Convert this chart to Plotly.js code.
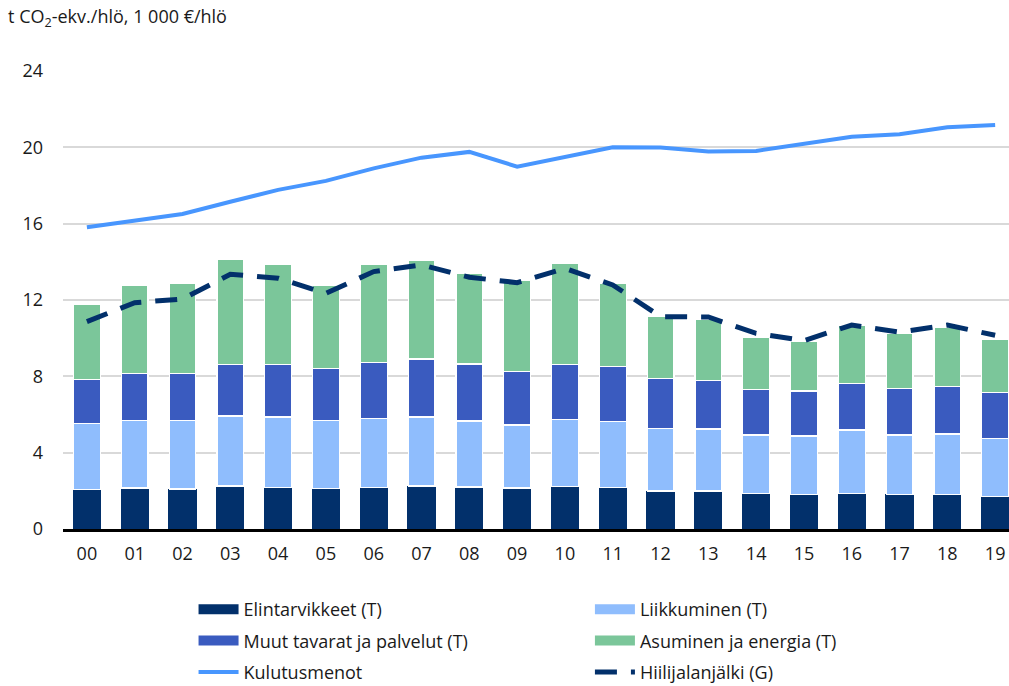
<!DOCTYPE html>
<html>
<head>
<meta charset="utf-8">
<script src="https://cdn.plot.ly/plotly-3.0.1.min.js"></script>
<style>body{margin:0;} #chart{width:1009px;height:686px;}</style>
</head>
<body>
<div id="chart"></div>
<script>
// years 2000-2019
var years = ['00','01','02','03','04','05','06','07','08','09','10','11','12','13','14','15','16','17','18','19'];

// stacked emission components, t CO2-ekv./hlö
var elintarvikkeet = [2.08,2.15,2.10,2.25,2.18,2.11,2.18,2.25,2.20,2.15,2.24,2.17,1.99,1.99,1.87,1.82,1.87,1.82,1.82,1.69];
var liikkuminen    = [3.46,3.55,3.60,3.67,3.69,3.59,3.62,3.62,3.46,3.30,3.49,3.45,3.29,3.25,3.06,3.05,3.32,3.11,3.16,3.06];
var muut           = [2.31,2.46,2.46,2.71,2.76,2.70,2.94,3.04,2.99,2.81,2.90,2.89,2.60,2.53,2.36,2.36,2.45,2.44,2.48,2.41];
var asuminen       = [3.93,4.59,4.72,5.52,5.21,4.39,5.11,5.15,4.75,4.75,5.27,4.37,3.27,3.22,2.76,2.59,3.02,2.89,3.09,2.75];

// 1 000 €/hlö
var kulutusmenot = [15.81,16.16,16.51,17.15,17.77,18.24,18.90,19.46,19.76,18.99,19.48,20.00,19.99,19.78,19.81,20.16,20.56,20.69,21.05,21.17];
// total footprint (G)
var hiilijalanjalki = [10.87,11.86,12.05,13.35,13.14,12.35,13.49,13.84,13.19,12.91,13.66,12.79,11.13,11.11,10.25,9.87,10.69,10.31,10.69,10.15];

var cNavy = '#02306b', cLight = '#8fbdfd', cBlue = '#3a5bbf', cGreen = '#7bc69a', cLine = '#4896fe';

function barTrace(y, color, w, line) {
  return {
    x: years, y: y, type: 'bar', width: w, showlegend: false, hoverinfo: 'y',
    marker: {color: color, line: line ? {color: '#ffffff', width: 1.2} : {width: 0}}
  };
}

// legend-only entries, so the swatches look like wide bars
function legendTrace(name, color, leg, width, dash) {
  return {
    x: [null], y: [null], type: 'scatter', mode: 'lines', name: name, legend: leg, legendgroup: name,
    line: {color: color, width: width, dash: dash || 'solid'}
  };
}

var data = [
  barTrace(elintarvikkeet, cNavy, 0.59, false),
  barTrace(liikkuminen, cLight, 0.56, true),
  barTrace(muut, cBlue, 0.56, true),
  barTrace(asuminen, cGreen, 0.56, true),
  {
    x: years, y: kulutusmenot, type: 'scatter', mode: 'lines', showlegend: false,
    line: {color: cLine, width: 4}
  },
  {
    x: years, y: hiilijalanjalki, type: 'scatter', mode: 'lines', showlegend: false,
    line: {color: cNavy, width: 5, dash: '22px,14px'}
  },
  legendTrace('Elintarvikkeet (T)', cNavy, 'legend', 10),
  legendTrace('Muut tavarat ja palvelut (T)', cBlue, 'legend', 10),
  legendTrace('Kulutusmenot', cLine, 'legend', 4),
  legendTrace('Liikkuminen (T)', cLight, 'legend2', 10),
  legendTrace('Asuminen ja energia (T)', cGreen, 'legend2', 10),
  legendTrace('Hiilijalanjälki (G)', cNavy, 'legend2', 5, '22px,14px')
];

var font = {family: 'Open Sans, sans-serif', size: 18, color: '#1a1a1a'};

var legendBase = {
  orientation: 'v', traceorder: 'grouped', itemwidth: 40,
  xref: 'paper', yref: 'container', yanchor: 'top', y: 0.1385,
  bgcolor: 'rgba(0,0,0,0)', font: font, tracegroupgap: 5, itemclick: false
};

var layout = {
  width: 1009, height: 686,
  margin: {l: 63, r: 0, t: 71, b: 157, autoexpand: false},
  paper_bgcolor: '#ffffff', plot_bgcolor: '#ffffff',
  font: font,
  barmode: 'stack',
  title: {
    text: 't CO<sub>2</sub>-ekv./hlö, 1 000 €/hlö',
    x: 0.008, xref: 'container', xanchor: 'left',
    y: 0.975, yref: 'container', yanchor: 'middle',
    font: font
  },
  xaxis: {
    type: 'category', range: [-0.5, 19.29],
    showgrid: false, showline: true, linecolor: '#000000', linewidth: 2.5,
    ticks: '', ticklabelstandoff: 7, tickfont: font
  },
  yaxis: {
    range: [0, 24], dtick: 4, tick0: 0,
    showgrid: true, gridcolor: '#d9d9d9', gridwidth: 1.8,
    zeroline: false, showline: false, ticks: '', ticklabelstandoff: 19, tickfont: font
  },
  legend: Object.assign({x: 0.138, xanchor: 'left'}, legendBase),
  legend2: Object.assign({x: 0.557, xanchor: 'left'}, legendBase)
};

Plotly.newPlot('chart', data, layout, {displayModeBar: false, staticPlot: true});
</script>
</body>
</html>
